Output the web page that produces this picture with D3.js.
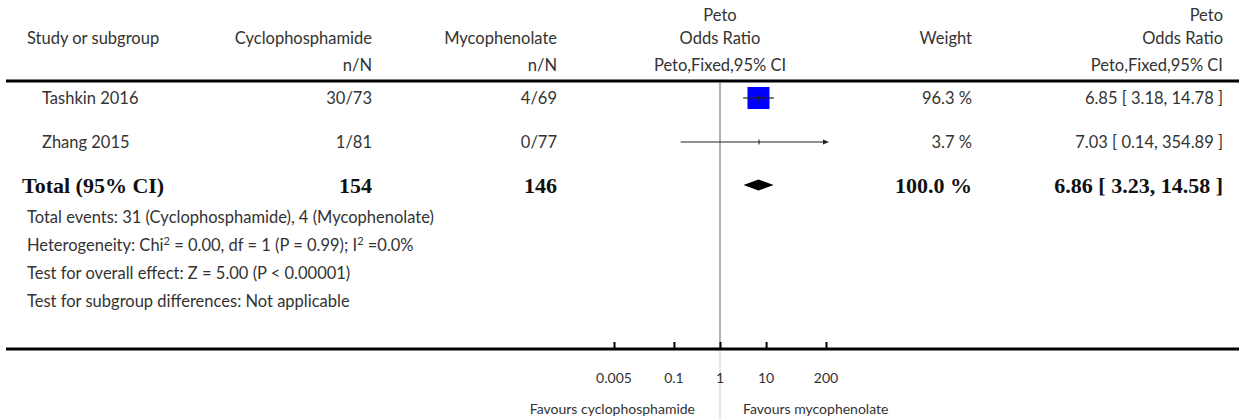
<!DOCTYPE html>
<html>
<head>
<meta charset="utf-8">
<script src="https://cdn.jsdelivr.net/npm/d3@7"></script>
<style>
  body { margin: 0; background: #fff; }
  svg { display: block; }
  .txt { font-family: Lato, "Open Sans", sans-serif; font-size: 16.5px; fill: #333; }
  .small { font-family: Lato, "Open Sans", sans-serif; font-size: 14px; fill: #333; }
  .bold { font-family: "Liberation Serif", "Times New Roman", serif; font-weight: bold; font-size: 22px; fill: #111; }
</style>
</head>
<body>
<svg id="chart"></svg>
<script>
// Study rows
const studies = ["Tashkin 2016", "Zhang 2015"];
const cycloNN = ["30/73", "1/81"];
const mycoNN = ["4/69", "0/77"];
const weights = [96.3, 3.7];
const oddsRatio = [6.85, 7.03];
const ciLow = [3.18, 0.14];
const ciHigh = [14.78, 354.89];

// Pooled result
const totalCyclo = 154;
const totalMyco = 146;
const totalWeight = 100.0;
const totalOR = [6.86, 3.23, 14.58];

// Axis
const tickValues = [0.005, 0.1, 1, 10, 200];
const tickLabels = ["0.005", "0.1", "1", "10", "200"];

const footLines = [
  "Total events: 31 (Cyclophosphamide), 4 (Mycophenolate)",
  "HET",
  "Test for overall effect: Z = 5.00 (P < 0.00001)",
  "Test for subgroup differences: Not applicable"
];

const width = 1239, height = 419;
const svg = d3.select("#chart").attr("width", width).attr("height", height);

const x = d3.scaleLog().domain([0.005, 200]).range([614, 826]);

// column anchors
const col = { study: 27, studyIndent: 42, cyclo: 372, myco: 557, weight: 972, ci: 1223 };
const rowY = [98, 142];
const totalY = 185;

function text(t, xx, yy, anchor, cls) {
  return svg.append("text")
    .attr("class", cls || "txt")
    .attr("x", xx).attr("y", yy)
    .attr("dy", "0.35em")
    .attr("text-anchor", anchor || "start")
    .text(t);
}

// header
text("Study or subgroup", col.study, 38);
text("Cyclophosphamide", col.cyclo, 38, "end");
text("Mycophenolate", col.myco, 38, "end");
text("Peto", x(1), 15, "middle");
text("Odds Ratio", x(1), 38, "middle");
text("Weight", col.weight, 38, "end");
text("Peto", col.ci, 15, "end");
text("Odds Ratio", col.ci, 38, "end");
text("n/N", col.cyclo, 65, "end");
text("n/N", col.myco, 65, "end");
text("Peto,Fixed,95% CI", x(1), 65, "middle");
text("Peto,Fixed,95% CI", col.ci, 65, "end");

svg.append("line")
  .attr("x1", 6).attr("x2", width).attr("y1", 81).attr("y2", 81)
  .attr("stroke", "#000").attr("stroke-width", 3);

// vertical line of no effect
svg.append("line")
  .attr("x1", x(1)).attr("x2", x(1)).attr("y1", 83).attr("y2", 349)
  .attr("stroke", "#666").attr("stroke-width", 1);
svg.append("line")
  .attr("x1", x(1)).attr("x2", x(1)).attr("y1", 349).attr("y2", height)
  .attr("stroke", "#ccc").attr("stroke-width", 1);

const fmt = d3.format(".2f");
const [xMin, xMax] = x.range();

studies.forEach((s, i) => {
  const y = rowY[i];
  text(s, col.studyIndent, y);
  text(cycloNN[i], col.cyclo, y, "end");
  text(mycoNN[i], col.myco, y, "end");
  text(weights[i].toFixed(1) + " %", col.weight, y, "end");
  text(`${fmt(oddsRatio[i])} [ ${fmt(ciLow[i])}, ${fmt(ciHigh[i])} ]`, col.ci, y, "end");

  const side = 22 * weights[i] / d3.max(weights);
  const cx = x(oddsRatio[i]);
  svg.append("rect")
    .attr("x", cx - side / 2).attr("y", y - side / 2)
    .attr("width", side).attr("height", side)
    .attr("fill", "#0000ff");

  const lo = Math.max(x(ciLow[i]), xMin);
  const clipped = ciHigh[i] > 200;
  const hi = clipped ? xMax - 2 : x(ciHigh[i]);
  svg.append("line")
    .attr("x1", lo).attr("x2", hi).attr("y1", y).attr("y2", y)
    .attr("stroke", "#222").attr("stroke-width", 1.2);
  if (clipped) {
    svg.append("path")
      .attr("d", `M${hi - 1},${y - 2.5}L${hi + 5},${y}L${hi - 1},${y + 2.5}Z`)
      .attr("fill", "#222");
  }
  svg.append("line")
    .attr("x1", cx).attr("x2", cx).attr("y1", y - 2.5).attr("y2", y + 2.5)
    .attr("stroke", "#222").attr("stroke-width", 1);
});

// total row
text("Total (95% CI)", 22, totalY, "start", "bold");
text(String(totalCyclo), col.cyclo, totalY, "end", "bold");
text(String(totalMyco), col.myco, totalY, "end", "bold");
text(totalWeight.toFixed(1) + " %", col.weight, totalY, "end", "bold");
text(`${fmt(totalOR[0])} [ ${fmt(totalOR[1])}, ${fmt(totalOR[2])} ]`, col.ci, totalY, "end", "bold");

const dx = x(totalOR[0]), dl = x(totalOR[1]), dr = x(totalOR[2]);
svg.append("path")
  .attr("d", `M${dl},${totalY}L${dx},${totalY - 5.5}L${dr},${totalY}L${dx},${totalY + 5.5}Z`)
  .attr("fill", "#000");

// footnotes
const footY = [217, 245, 273, 301];
footLines.forEach((t, i) => {
  if (t === "HET") {
    const el = svg.append("text").attr("class", "txt")
      .attr("x", col.study).attr("y", footY[i]).attr("dy", "0.35em");
    el.append("tspan").text("Heterogeneity: Chi");
    el.append("tspan").text("2").attr("font-size", 11).attr("baseline-shift", "super");
    el.append("tspan").text(" = 0.00, df = 1 (P = 0.99); I");
    el.append("tspan").text("2").attr("font-size", 11).attr("baseline-shift", "super");
    el.append("tspan").text(" =0.0%");
  } else {
    text(t, col.study, footY[i]);
  }
});

// bottom axis
svg.append("line")
  .attr("x1", 6).attr("x2", width).attr("y1", 349).attr("y2", 349)
  .attr("stroke", "#000").attr("stroke-width", 3);

const axis = d3.axisTop(x)
  .tickValues(tickValues)
  .tickSize(6)
  .tickFormat("");
const axG = svg.append("g").attr("transform", "translate(0,348)").call(axis);
axG.select(".domain").remove();
axG.selectAll(".tick line").attr("stroke", "#000").attr("stroke-width", 2);

tickValues.forEach((v, i) => text(tickLabels[i], x(v), 378, "middle", "small"));

text("Favours cyclophosphamide", x(1) - 25, 409, "end", "small");
text("Favours mycophenolate", x(1) + 23, 409, "start", "small");
</script>
</body>
</html>
